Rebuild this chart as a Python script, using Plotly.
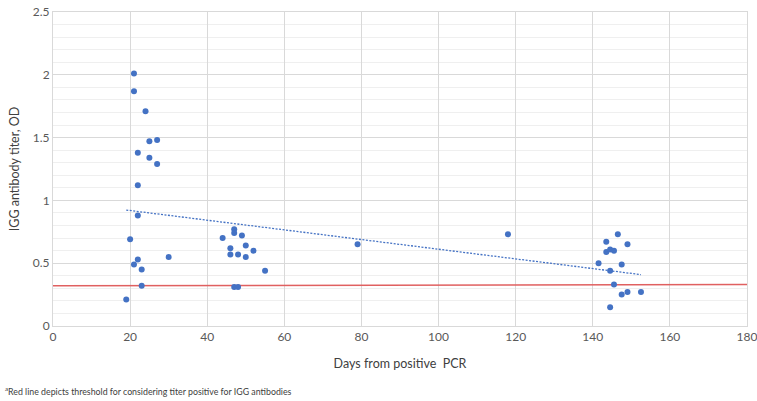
import numpy as np
import plotly.graph_objects as go

days = [21, 21, 24, 25, 27, 22, 25, 27, 22, 22, 20, 22, 21, 23, 30, 23, 19,
        44, 47, 47, 49, 46, 46, 48, 50, 50, 52, 55, 47, 48, 79, 118,
        146.5, 143.5, 149, 143.5, 144.5, 145.5, 141.5, 147.5, 144.5, 145.5, 147.5, 149, 152.5, 144.5]
titer = [2.01, 1.87, 1.71, 1.47, 1.48, 1.38, 1.34, 1.29, 1.12, 0.88, 0.69, 0.53, 0.49, 0.45, 0.55, 0.32, 0.21,
         0.70, 0.77, 0.74, 0.72, 0.62, 0.57, 0.57, 0.64, 0.55, 0.60, 0.44, 0.31, 0.31, 0.65, 0.73,
         0.73, 0.67, 0.65, 0.59, 0.61, 0.60, 0.50, 0.49, 0.44, 0.33, 0.25, 0.27, 0.27, 0.15]

threshold_x = [0, 180]
threshold_y = [0.32, 0.33]

x_ticks = list(range(0, 181, 20))
y_ticks = [0, 0.5, 1, 1.5, 2, 2.5]
y_tick_labels = ["0", "0.5", "1", "1.5", "2", "2.5"]

# linear trendline over data range
xa = np.array(days, dtype=float)
ya = np.array(titer, dtype=float)
slope, intercept = np.polyfit(xa, ya, 1)
trend_x = [xa.min(), xa.max()]
trend_y = [slope * v + intercept for v in trend_x]

FONT = "Lato, 'Open Sans', sans-serif"
BLUE = "#4472C4"
GRID = "#D9D9D9"

fig = go.Figure()
fig.add_trace(go.Scatter(x=threshold_x, y=threshold_y, mode="lines",
                         line=dict(color="#E06060", width=1.5), hoverinfo="skip"))
fig.add_trace(go.Scatter(x=trend_x, y=trend_y, mode="lines",
                         line=dict(color=BLUE, width=1.3, dash="2px,1.5px"), hoverinfo="skip"))
fig.add_trace(go.Scatter(x=days, y=titer, mode="markers",
                         marker=dict(color=BLUE, size=6)))

fig.update_layout(
    width=757, height=401,
    margin=dict(l=53, r=10, t=12, b=75),
    paper_bgcolor="white", plot_bgcolor="white",
    showlegend=False,
    font=dict(family=FONT, color="#595959", size=12),
    xaxis=dict(range=[0, 180], tickvals=x_ticks, showgrid=True, gridcolor=GRID,
               zeroline=False, showline=True, mirror=True, linecolor=GRID, linewidth=1, ticks="",
               ticklabeloverflow="allow", automargin=False,
               title=dict(text="Days from positive  PCR", font=dict(size=12.5, color="#404040"), standoff=15),
               tickfont=dict(size=12, color="#595959")),
    yaxis=dict(range=[0, 2.5], tickvals=y_ticks, ticktext=y_tick_labels, showgrid=True,
               gridcolor=GRID, zeroline=False, showline=True, mirror=True, linecolor=GRID, linewidth=1,
               ticks="", ticklabeloverflow="allow", automargin=False,
               minor=dict(dtick=0.1, showgrid=True, gridcolor="#EFEFEF"),
               title=dict(text="IGG antibody titer, OD", font=dict(size=12.5, color="#404040"), standoff=10),
               tickfont=dict(size=12, color="#595959")),
)

fig.add_annotation(
    xref="paper", yref="paper", x=-50 / 694, y=-65 / 314, xanchor="left", yanchor="middle",
    text="<sup>a</sup>Red line depicts threshold for considering titer positive for IGG antibodies",
    showarrow=False, font=dict(size=8.8, color="#404040", family=FONT))

fig.write_html("out.html", config={"displayModeBar": False},
               post_script="document.body.style.margin='0';")
